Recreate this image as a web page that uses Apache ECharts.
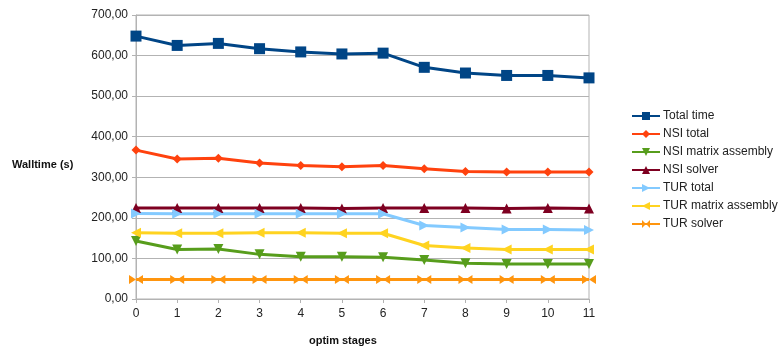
<!DOCTYPE html>
<html>
<head>
<meta charset="utf-8">
<script src="https://cdn.jsdelivr.net/npm/echarts@6/dist/echarts.min.js"></script>
<style>
  html, body { margin: 0; padding: 0; background: #fff; }
  #chart { width: 780px; height: 351px; }
</style>
</head>
<body>
<div id="chart"></div>
<script>
// Optimisation stages on the x axis
const stages = ['0', '1', '2', '3', '4', '5', '6', '7', '8', '9', '10', '11'];

// Walltime per stage, seconds
const totalTime      = [648, 625, 630, 617, 609, 604, 606, 571, 557, 551, 551, 545];
const nsiTotal       = [367, 345, 347, 335, 329, 326, 329, 321, 314, 313, 313, 313];
const nsiMatrix      = [143, 122, 123, 110, 104, 104, 103, 96, 88, 86, 86, 86];
const nsiSolver      = [224, 224, 224, 224, 224, 223, 224, 224, 224, 223, 224, 223];
const turTotal       = [211, 210, 210, 210, 210, 210, 210, 181, 176, 171, 171, 170];
const turMatrix      = [163, 162, 162, 163, 163, 162, 162, 132, 126, 122, 122, 122];
const turSolver      = [48, 48, 48, 48, 48, 48, 48, 48, 48, 48, 48, 48];

const bowtie = 'path://M0,0 L10,5 L0,10 Z M20,0 L10,5 L20,10 Z';

function line(name, data, color, symbol, size, rotate) {
  return {
    name: name,
    type: 'line',
    data: data,
    symbol: symbol,
    symbolSize: size,
    symbolRotate: rotate || 0,
    showSymbol: true,
    lineStyle: { color: color, width: 3 },
    itemStyle: { color: color },
    emphasis: { disabled: true },
    animation: false
  };
}

const chart = echarts.init(document.getElementById('chart'), null, { renderer: 'canvas' });
chart.setOption({
  backgroundColor: '#ffffff',
  textStyle: { fontFamily: 'Liberation Sans' },
  grid: {
    left: 136, right: 191, top: 15, bottom: 52,
    show: true, borderColor: '#b3b3b3', borderWidth: 1
  },
  xAxis: {
    type: 'category',
    data: stages,
    boundaryGap: false,
    axisLine: { lineStyle: { color: '#b3b3b3' } },
    axisTick: { show: true, length: 4, alignWithLabel: true, lineStyle: { color: '#b3b3b3' } },
    axisLabel: { color: '#222', fontSize: 12, margin: 9 },
    splitLine: { show: false }
  },
  yAxis: {
    type: 'value',
    min: 0, max: 700, interval: 100,
    axisLine: { show: true, lineStyle: { color: '#b3b3b3' } },
    axisTick: { show: true, length: 4, lineStyle: { color: '#b3b3b3' } },
    axisLabel: {
      color: '#222', fontSize: 12, margin: 8,
      formatter: v => v.toFixed(2).replace('.', ',')
    },
    splitLine: { lineStyle: { color: '#b3b3b3', width: 1 } }
  },
  legend: {
    orient: 'vertical',
    left: 631, top: 110, padding: 0,
    itemWidth: 28, itemHeight: 10, itemGap: 6,
    textStyle: { color: '#222', fontSize: 12, fontFamily: 'Liberation Sans', padding: [0, 0, 0, -2] },
    data: ['Total time', 'NSI total', 'NSI matrix assembly', 'NSI solver', 'TUR total', 'TUR matrix assembly', 'TUR solver']
  },
  graphic: [
    { type: 'text', left: 12, top: 159,
      style: { text: 'Walltime (s)', font: 'bold 11px "Liberation Sans"', fill: '#111' } },
    { type: 'text', left: 309, top: 335,
      style: { text: 'optim stages', font: 'bold 11px "Liberation Sans"', fill: '#111' } }
  ],
  series: [
    line('Total time', totalTime, '#004586', 'rect', 11),
    line('NSI total', nsiTotal, '#ff420e', 'diamond', 9),
    line('NSI matrix assembly', nsiMatrix, '#579d1c', 'triangle', 10, 180),
    line('NSI solver', nsiSolver, '#7e0021', 'triangle', 10),
    line('TUR total', turTotal, '#83caff', 'triangle', 10, -90),
    line('TUR matrix assembly', turMatrix, '#ffd320', 'triangle', 10, 90),
    line('TUR solver', turSolver, '#ff950e', bowtie, [14, 9])
  ]
});
</script>
</body>
</html>
